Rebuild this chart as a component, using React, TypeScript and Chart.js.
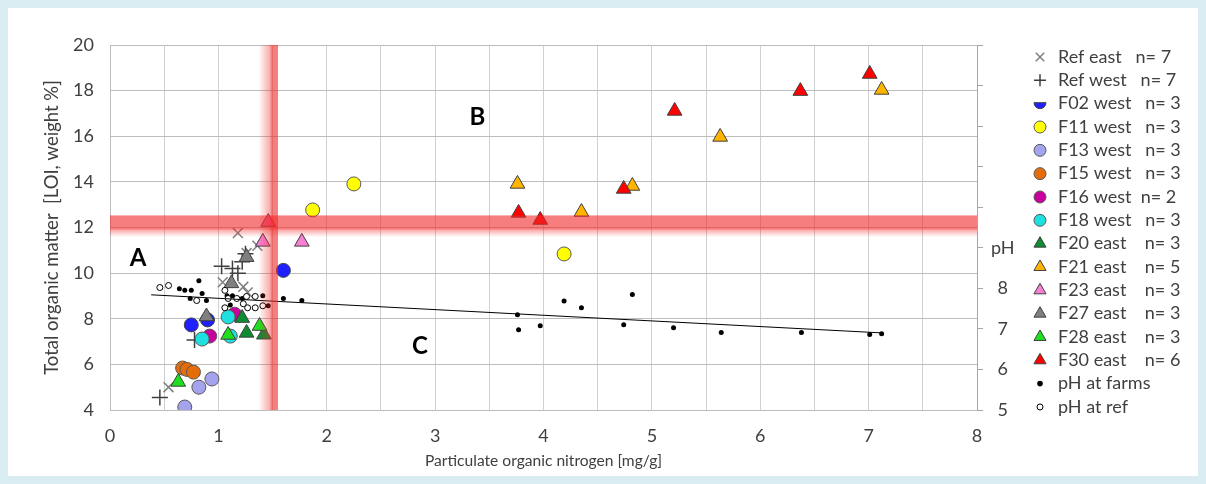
import { useEffect, useRef } from 'react';
import { Chart, registerables } from 'chart.js';
import { drawPoint } from 'chart.js/helpers';

Chart.register(...registerables);

// ---- data (x = particulate organic nitrogen [mg/g], y = LOI [%]) ----
const refEastX = [1.18, 1.36, 1.26, 1.04, 1.23, 1.27, 0.54];
const refEastY = [11.76, 11.2, 10.88, 9.6, 9.4, 9.15, 5.0];
const refWestX = [1.03, 1.13, 1.18, 1.22, 1.25, 0.46, 0.78];
const refWestY = [10.3, 10.2, 10.0, 10.5, 10.85, 4.55, 7.07];
const f02X = [1.6, 0.75, 0.9];
const f02Y = [10.12, 7.73, 7.95];
const f11X = [1.87, 2.25, 4.19];
const f11Y = [12.77, 13.91, 10.84];
const f13X = [0.69, 0.82, 0.94];
const f13Y = [4.13, 5.0, 5.36];
const f15X = [0.67, 0.71, 0.77];
const f15Y = [5.84, 5.78, 5.66];
const f16X = [0.92, 1.15];
const f16Y = [7.24, 8.2];
const f18X = [0.85, 1.09, 1.11];
const f18Y = [7.11, 8.08, 7.24];
const f20X = [1.22, 1.26, 1.42];
const f20Y = [8.03, 7.38, 7.3];
const f21X = [3.76, 4.35, 4.82, 5.63, 7.12];
const f21Y = [13.91, 12.68, 13.82, 15.97, 18.03];
const f23X = [1.41, 1.46, 1.77];
const f23Y = [11.37, 12.24, 11.37];
const f27X = [1.26, 1.12, 0.89];
const f27Y = [10.7, 9.55, 8.1];
const f28X = [0.63, 1.09, 1.38];
const f28Y = [5.23, 7.29, 7.68];
const f30X = [3.77, 3.97, 4.74, 5.21, 6.37, 7.01];
const f30Y = [12.64, 12.33, 13.69, 17.11, 17.98, 18.73];

// pH (right axis)
const phFarmX = [0.64, 0.69, 0.75, 0.82, 0.85, 0.74, 0.89, 1.08, 1.13, 1.22, 1.11, 1.41, 1.46, 1.6, 1.77, 3.76, 3.77, 3.97, 4.19, 4.35, 4.74, 4.82, 5.2, 5.64, 6.38, 7.01, 7.12];
const phFarmY = [7.99, 7.95, 7.95, 8.19, 7.87, 7.75, 7.7, 7.82, 7.82, 7.75, 7.59, 7.82, 7.57, 7.75, 7.7, 7.35, 6.98, 7.08, 7.69, 7.52, 7.1, 7.85, 7.03, 6.91, 6.91, 6.86, 6.88];
const phRefX = [0.46, 0.54, 0.8, 1.06, 1.09, 1.17, 1.26, 1.34, 1.23, 1.27, 1.34, 1.06, 1.41];
const phRefY = [8.02, 8.07, 7.7, 7.95, 7.75, 7.75, 7.8, 7.8, 7.62, 7.52, 7.52, 7.52, 7.57];
const trendX = [0.38, 7.13];
const trendY = [7.84, 6.9];

// thresholds (fade start, core start, core end)
const ponBand = [1.37, 1.48, 1.55];
const loiBand = [11.58, 11.9, 12.53];

const regionLabels = ['A', 'B', 'C'];
const regionX = [0.26, 3.39, 2.86];
const regionY = [10.66, 16.85, 6.81];

const xTitle = 'Particulate organic nitrogen [mg/g]';
const yTitle = 'Total organic matter  [LOI, weight %]';

const FONT = 'Lato, "Open Sans", sans-serif';
const TEXT = '#404040';

type Series = {
  label: string; xs: number[]; ys: number[]; style: string; fill: string; stroke: string;
  r: number; bw: number; lr: number; axis?: string; half?: boolean;
};

const series: Series[] = [
  { label: 'Ref east   n= 7', xs: refEastX, ys: refEastY, style: 'crossRot', fill: '#808080', stroke: '#7f7f7f', r: 7, bw: 1.5, lr: 6 },
  { label: 'Ref west   n= 7', xs: refWestX, ys: refWestY, style: 'cross', fill: '#404040', stroke: '#404040', r: 8, bw: 1.5, lr: 6 },
  { label: 'F02 west   n= 3', xs: f02X, ys: f02Y, style: 'circle', fill: '#1f1fff', stroke: '#404040', r: 7, bw: 1, lr: 6, half: true },
  { label: 'F11 west   n= 3', xs: f11X, ys: f11Y, style: 'circle', fill: '#ffff00', stroke: '#595959', r: 7, bw: 1, lr: 6 },
  { label: 'F13 west   n= 3', xs: f13X, ys: f13Y, style: 'circle', fill: '#a3a3ee', stroke: '#595959', r: 7, bw: 1, lr: 6 },
  { label: 'F15 west   n= 3', xs: f15X, ys: f15Y, style: 'circle', fill: '#e46c0a', stroke: '#595959', r: 7, bw: 1, lr: 6 },
  { label: 'F16 west  n= 2', xs: f16X, ys: f16Y, style: 'circle', fill: '#c8009c', stroke: '#595959', r: 7, bw: 1, lr: 6 },
  { label: 'F18 west   n= 3', xs: f18X, ys: f18Y, style: 'circle', fill: '#1fe0e0', stroke: '#595959', r: 7, bw: 1, lr: 6 },
  { label: 'F20 east    n= 3', xs: f20X, ys: f20Y, style: 'triangle', fill: '#0e8c32', stroke: '#404040', r: 8.5, bw: 1, lr: 7 },
  { label: 'F21 east    n= 5', xs: f21X, ys: f21Y, style: 'triangle', fill: '#ffb400', stroke: '#404040', r: 8.5, bw: 1, lr: 7 },
  { label: 'F23 east    n= 3', xs: f23X, ys: f23Y, style: 'triangle', fill: '#f77fd4', stroke: '#404040', r: 8.5, bw: 1, lr: 7 },
  { label: 'F27 east    n= 3', xs: f27X, ys: f27Y, style: 'triangle', fill: '#7f7f7f', stroke: '#404040', r: 8.5, bw: 1, lr: 7 },
  { label: 'F28 east    n= 3', xs: f28X, ys: f28Y, style: 'triangle', fill: '#1fe01f', stroke: '#404040', r: 8.5, bw: 1, lr: 7 },
  { label: 'F30 east    n= 6', xs: f30X, ys: f30Y, style: 'triangle', fill: '#ff0000', stroke: '#404040', r: 8.5, bw: 1, lr: 7 },
  { label: 'pH at farms', xs: phFarmX, ys: phFarmY, style: 'circle', fill: '#000000', stroke: '#000000', r: 2.5, bw: 0, lr: 2.8, axis: 'y2' },
  { label: 'pH at ref', xs: phRefX, ys: phRefY, style: 'circle', fill: '#ffffff', stroke: '#000000', r: 3, bw: 1, lr: 3, axis: 'y2' },
];

const LEG_X = 1032;
const LEG_TX = 1050;
const LEG_TOP = 49;
const LEG_STEP = 23.33;

const legendPlugin = {
  id: 'customLegend',
  afterDraw(chart: any) {
    const ctx = chart.ctx as CanvasRenderingContext2D;
    ctx.save();
    series.forEach((s, i) => {
      const y = LEG_TOP + i * LEG_STEP;
      ctx.fillStyle = s.fill;
      ctx.strokeStyle = s.stroke;
      ctx.lineWidth = s.bw;
      if (s.half) {
        ctx.beginPath();
        ctx.arc(LEG_X, y - 1, s.lr, 0, Math.PI);
        ctx.closePath();
        ctx.fill();
        ctx.stroke();
      } else {
        drawPoint(ctx, { pointStyle: s.style as any, radius: s.lr, borderWidth: s.bw, rotation: 0 } as any, LEG_X, y);
      }
      ctx.fillStyle = TEXT;
      ctx.font = `18px ${FONT}`;
      ctx.textAlign = 'left';
      ctx.textBaseline = 'middle';
      ctx.fillText(s.label, LEG_TX, y);
    });
    ctx.restore();
  },
};

const bandPlugin = {
  id: 'bands',
  afterDatasetsDraw(chart: any) {
    const { ctx, chartArea: a, scales } = chart;
    const xs = scales.x;
    const ys = scales.y;
    ctx.save();
    ctx.beginPath();
    ctx.rect(a.left, a.top, a.right - a.left, a.bottom - a.top);
    ctx.clip();
    const core = 'rgba(242,40,40,0.6)';
    // vertical band
    const vx0 = xs.getPixelForValue(ponBand[0]);
    const vx1 = xs.getPixelForValue(ponBand[1]);
    const vx2 = xs.getPixelForValue(ponBand[2]);
    const gv = ctx.createLinearGradient(vx0, 0, vx1, 0);
    gv.addColorStop(0, 'rgba(242,40,40,0)');
    gv.addColorStop(1, 'rgba(242,40,40,0.4)');
    ctx.fillStyle = gv;
    ctx.fillRect(vx0, a.top, vx1 - vx0, a.bottom - a.top);
    ctx.fillStyle = core;
    ctx.fillRect(vx1, a.top, vx2 - vx1, a.bottom - a.top);
    // horizontal band
    const hy0 = ys.getPixelForValue(loiBand[0]);
    const hy1 = ys.getPixelForValue(loiBand[1]);
    const hy2 = ys.getPixelForValue(loiBand[2]);
    const gh = ctx.createLinearGradient(0, hy0, 0, hy1);
    gh.addColorStop(0, 'rgba(242,40,40,0)');
    gh.addColorStop(1, 'rgba(242,40,40,0.4)');
    ctx.fillStyle = gh;
    ctx.fillRect(a.left, hy1, a.right - a.left, hy0 - hy1);
    ctx.fillStyle = core;
    ctx.fillRect(a.left, hy2, a.right - a.left, hy1 - hy2);
    ctx.restore();
  },
};

const regionPlugin = {
  id: 'regions',
  afterDraw(chart: any) {
    const { ctx, scales } = chart;
    ctx.save();
    ctx.fillStyle = '#000';
    ctx.font = `bold 24px ${FONT}`;
    ctx.textAlign = 'center';
    ctx.textBaseline = 'middle';
    regionLabels.forEach((t, i) => {
      ctx.fillText(t, scales.x.getPixelForValue(regionX[i]), scales.y.getPixelForValue(regionY[i]));
    });
    ctx.restore();
  },
};

export default function App() {
  const ref = useRef<HTMLCanvasElement>(null);
  useEffect(() => {
    document.body.style.background = '#d9ecf1';
    const datasets: any[] = series.map((s, i) => ({
      label: s.label,
      data: s.xs.map((x, j) => ({ x, y: s.ys[j] })),
      yAxisID: s.axis || 'y',
      pointStyle: s.style,
      pointRadius: s.r,
      pointHoverRadius: s.r,
      pointBackgroundColor: s.fill,
      pointBorderColor: s.stroke,
      pointBorderWidth: s.bw,
      showLine: false,
      order: 100 - i,
    }));
    datasets.push({
      label: 'trend',
      data: trendX.map((x, j) => ({ x, y: trendY[j] })),
      yAxisID: 'y2',
      showLine: true,
      borderColor: '#000000',
      borderWidth: 1,
      pointRadius: 0,
      order: 1,
    });
    const chart = new Chart(ref.current!, {
      type: 'scatter',
      data: { datasets },
      plugins: [bandPlugin, regionPlugin, legendPlugin],
      options: {
        animation: false,
        responsive: false,
        layout: { padding: { left: 0, right: 183, top: 37, bottom: 0 } },
        plugins: { legend: { display: false }, tooltip: { enabled: false } },
        scales: {
          x: {
            type: 'linear', min: 0, max: 8,
            ticks: {
              stepSize: 0.5, autoSkip: false, maxRotation: 0, padding: 15,
              callback: (v: any) => (Number.isInteger(v) ? String(v) : ''),
              font: { family: FONT, size: 18 }, color: TEXT,
            },
            grid: { color: '#d0d0d0', drawTicks: false },
            border: { color: '#bdbdbd' },
            title: { display: true, text: xTitle, font: { family: FONT, size: 15.6 }, color: TEXT, padding: { top: 0, bottom: 6 } },
            afterFit: (s: any) => { s.height = 66; },
          },
          y: {
            type: 'linear', position: 'left', min: 4, max: 20,
            ticks: { stepSize: 2, padding: 16, font: { family: FONT, size: 18 }, color: TEXT },
            grid: { color: '#bdbdbd', drawTicks: false },
            border: { color: '#bdbdbd' },
            title: { display: true, text: yTitle, font: { family: FONT, size: 18.5 }, color: TEXT, padding: { top: 33, bottom: 0 } },
            afterFit: (s: any) => { s.width = 102; },
          },
          y2: {
            type: 'linear', position: 'right', min: 5, max: 14,
            ticks: {
              stepSize: 1, padding: 8, crossAlign: 'center',
              callback: (v: any) => (v >= 5 && v <= 8 ? String(v) : v === 9 ? 'pH' : ''),
              font: { family: FONT, size: 18 }, color: TEXT,
            },
            grid: { drawOnChartArea: false, drawTicks: true, tickLength: 6, color: '#a6a6a6' },
            border: { color: '#a6a6a6' },
            afterFit: (s: any) => { s.width = 40; },
          },
        },
      } as any,
    });
    return () => chart.destroy();
  }, []);
  return (
    <canvas
      ref={ref}
      width={1192}
      height={468}
      style={{ display: 'block', width: '1192px', height: '468px', background: '#ffffff' }}
    />
  );
}
